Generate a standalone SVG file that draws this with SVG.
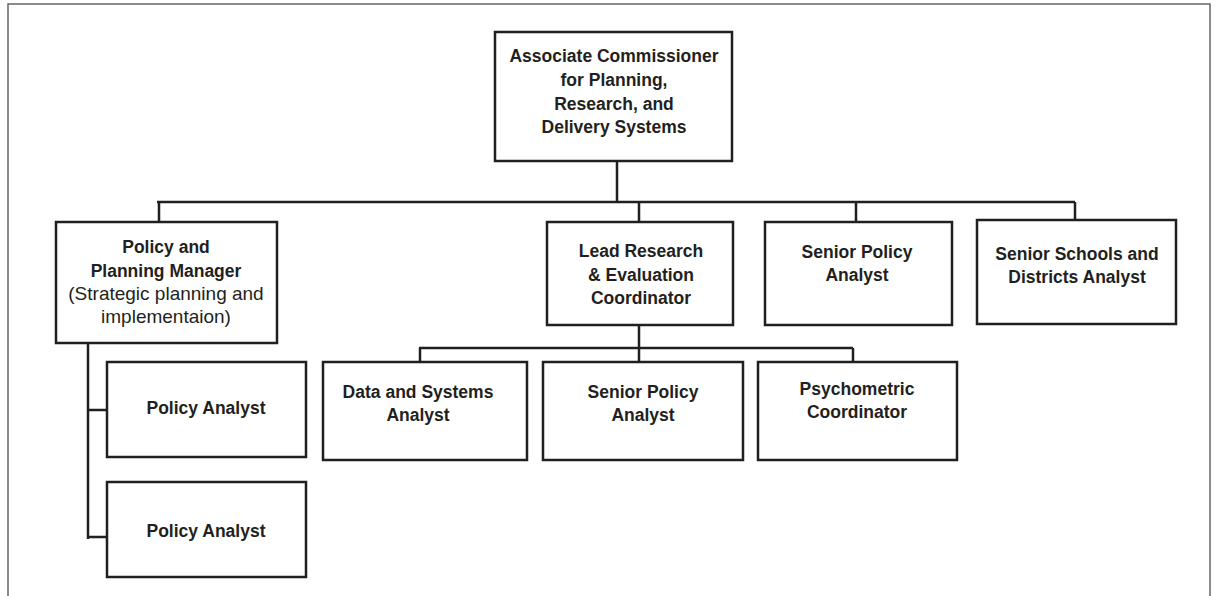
<svg xmlns="http://www.w3.org/2000/svg" width="1219" height="596" viewBox="0 0 1219 596">
<style>
.box{fill:#fff;stroke:#231f20;stroke-width:2.5}
.ln{fill:none;stroke:#231f20;stroke-width:2.5}
.frame{fill:none;stroke:#666;stroke-width:1.5}
.t{font-family:"Liberation Sans",Arial,sans-serif;font-size:17.5px;font-weight:bold;fill:#231f20;text-anchor:middle}
.r{font-family:"Liberation Sans",Arial,sans-serif;font-size:19px;fill:#231f20;text-anchor:middle}
</style>
<rect width="1219" height="596" fill="#fff"/>
<path class="frame" d="M8,596 V4 H1210 V596"/>
<g id="connectors">
<path class="ln" d="M617,161 V202 M157,202 H1075 M159,202 V222 M639,202 V222 M856,202 V222 M1075,202 V219"/>
<path class="ln" d="M639,325 V348 M419,348 H853 M420,348 V362 M639,348 V362 M853,348 V362"/>
<path class="ln" d="M88,343 V539 M88,410 H107 M88,537 H107"/>
</g>
<g id="n-assoc">
<rect class="box" x="495" y="32" width="237" height="129"/>
<text class="t" x="614" y="62">Associate Commissioner</text>
<text class="t" x="614" y="86">for Planning,</text>
<text class="t" x="614" y="110">Research, and</text>
<text class="t" x="614" y="133">Delivery Systems</text>
</g>
<g id="n-ppm">
<rect class="box" x="56" y="222" width="221" height="121"/>
<text class="t" x="166" y="253">Policy and</text>
<text class="t" x="166" y="277">Planning Manager</text>
<text class="r" x="166" y="300">(Strategic planning and</text>
<text class="r" x="166" y="323">implementaion)</text>
</g>
<g id="n-pa1">
<rect class="box" x="107" y="362" width="199" height="95"/>
<text class="t" x="206" y="414">Policy Analyst</text>
</g>
<g id="n-pa2">
<rect class="box" x="107" y="482" width="199" height="95"/>
<text class="t" x="206" y="537">Policy Analyst</text>
</g>
<g id="n-lead">
<rect class="box" x="547" y="222" width="186" height="103"/>
<text class="t" x="641" y="257">Lead Research</text>
<text class="t" x="641" y="281">&amp; Evaluation</text>
<text class="t" x="641" y="304">Coordinator</text>
</g>
<g id="n-spa1">
<rect class="box" x="765" y="222" width="187" height="103"/>
<text class="t" x="857" y="258">Senior Policy</text>
<text class="t" x="857" y="281">Analyst</text>
</g>
<g id="n-ssda">
<rect class="box" x="977" y="220" width="199" height="104"/>
<text class="t" x="1077" y="260">Senior Schools and</text>
<text class="t" x="1077" y="283">Districts Analyst</text>
</g>
<g id="n-dsa">
<rect class="box" x="323" y="362" width="204" height="98"/>
<text class="t" x="418" y="398">Data and Systems</text>
<text class="t" x="418" y="421">Analyst</text>
</g>
<g id="n-spa2">
<rect class="box" x="543" y="362" width="200" height="98"/>
<text class="t" x="643" y="398">Senior Policy</text>
<text class="t" x="643" y="421">Analyst</text>
</g>
<g id="n-psy">
<rect class="box" x="758" y="362" width="199" height="98"/>
<text class="t" x="857" y="395">Psychometric</text>
<text class="t" x="857" y="418">Coordinator</text>
</g>
</svg>
